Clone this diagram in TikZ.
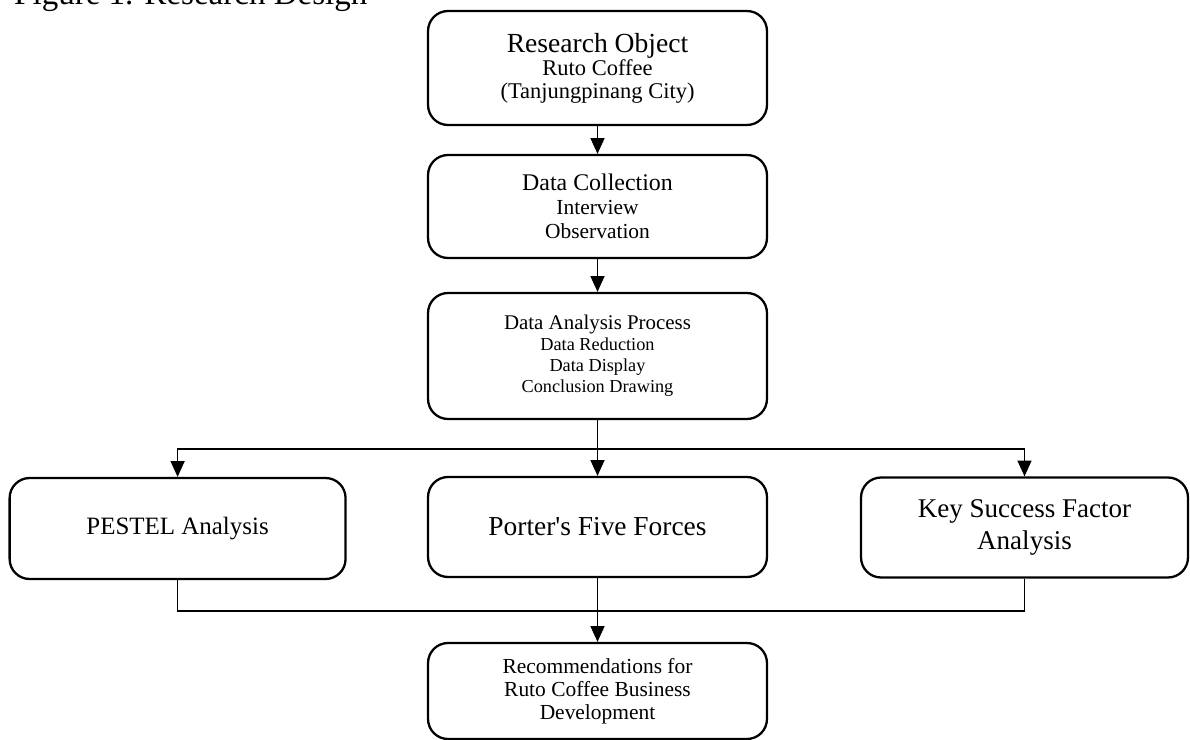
\documentclass[tikz,border=0pt]{standalone}
\usepackage{fontspec}
\setmainfont{Liberation Serif}
\usetikzlibrary{arrows.meta}
\begin{document}
\begin{tikzpicture}[x=0.02cm,y=-0.02cm,
    box/.style={draw=black,line width=1.3pt,rounded corners=0.4cm,align=center,minimum width=6.78cm,inner sep=2pt},
    link/.style={draw=black,line width=0.8pt},
    arrow/.style={link,-{Triangle[length=9pt,width=8pt]}}]
  \useasboundingbox (0,0) rectangle (1190,740);
  \node[anchor=base west,font=\fontsize{18.8}{22}\selectfont] (title) at (8,5) {Figure 1. Research Design};
  \begin{scope}[every node/.style={box}]
    \node[minimum height=2.28cm,font=\fontsize{12.8}{13.1}\selectfont] (object) at (597.5,68)
      {{\fontsize{15.7}{13.1}\selectfont Research Object}\\Ruto Coffee\\(Tanjungpinang City)};
    \node[minimum height=2.06cm,font=\fontsize{12.2}{13.7}\selectfont] (collection) at (597.5,206.5)
      {{\fontsize{13.6}{13.7}\selectfont Data Collection}\\Interview\\Observation};
    \node[minimum height=2.52cm,font=\fontsize{10.4}{12}\selectfont] (analysis) at (597.5,356)
      {{\fontsize{11.9}{12}\selectfont Data Analysis Process}\\Data Reduction\\Data Display\\Conclusion Drawing};
    \node[minimum width=6.72cm,minimum height=2.02cm,font=\fontsize{14.2}{17}\selectfont] (pestel) at (177.6,528.5) {PESTEL Analysis};
    \node[minimum height=2cm,font=\fontsize{15.6}{18}\selectfont] (porter) at (597.5,527) {Porter\textquotesingle s Five Forces};
    \node[minimum width=6.54cm,minimum height=2cm,font=\fontsize{15.4}{18.2}\selectfont] (ksf) at (1024.5,527.5)
      {Key Success Factor\\Analysis};
    \node[minimum height=1.92cm,font=\fontsize{12.2}{13}\selectfont] (recom) at (597.5,691)
      {\raisebox{-3pt}{Recommendations for}\\\raisebox{-3pt}{Ruto Coffee Business}\\\raisebox{-3pt}{Development}};
  \end{scope}
  \coordinate (split) at (597.5,449);
  \coordinate (join) at (597.5,611);
  \draw[arrow] (object) -- (collection);
  \draw[arrow] (collection) -- (analysis);
  \draw[link] (analysis) -- (split);
  \draw[arrow] (split) -| (pestel.north);
  \draw[arrow] (split) -- (porter);
  \draw[arrow] (split) -| (ksf.north);
  \draw[link] (pestel) |- (join);
  \draw[link] (ksf) |- (join);
  \draw[arrow] (porter) -- (recom);
\end{tikzpicture}
\end{document}
